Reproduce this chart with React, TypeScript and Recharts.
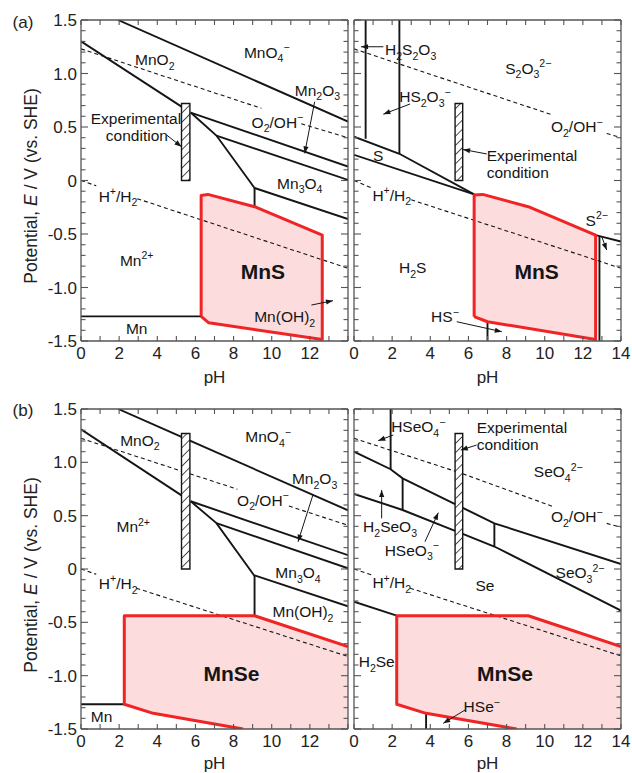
import React from 'react';
import { ComposedChart, Line, Area, XAxis, YAxis, ReferenceArea, ReferenceDot } from 'recharts';

type P = [number, number];
type F = [number, number, number];
type Lbl = { t: string; x: number; y: number; b?: boolean; a?: 'start' | 'middle' | 'end' };

const FONT = 'Arial, "Liberation Sans", Helvetica, sans-serif';
const AX = '#555';
const INK = '#151515';
const RED = '#f02424';
const PINK = '#fcdcdc';

// shared axis values
const PH_TICKS = [0, 1, 2, 3, 4, 5, 6, 7, 8, 9, 10, 11, 12, 13, 14];
const PH_LABELS_LEFT = [0, 2, 4, 6, 8, 10, 12];
const PH_LABELS_RIGHT = [0, 2, 4, 6, 8, 10, 12, 14];
const E_TICKS = [
  -1.5, -1.4, -1.3, -1.2, -1.1, -1.0, -0.9, -0.8, -0.7, -0.6, -0.5, -0.4, -0.3, -0.2, -0.1, 0,
  0.1, 0.2, 0.3, 0.4, 0.5, 0.6, 0.7, 0.8, 0.9, 1.0, 1.1, 1.2, 1.3, 1.4, 1.5,
];
const E_LABELS = [-1.5, -1.0, -0.5, 0, 0.5, 1.0, 1.5];

// ---------- (a) left : Mn-H2O with MnS ----------
const aLeftSolid: P[][] = [
  [[1.94, 1.5], [14, 0.55]],
  [[0, 1.3], [5.27, 0.69]],
  [[5.75, 0.635], [14, 0.13]],
  [[5.75, 0.635], [7.1, 0.42], [9.1, -0.07]],
  [[7.1, 0.42], [14, 0.005]],
  [[9.1, -0.07], [14, -0.36]],
  [[9.1, -0.07], [9.1, -0.245]],
  [[0, -1.27], [6.3, -1.27]],
];
const aLeftDashed: P[][] = [
  [[0, 1.23], [9.46, 0.675]],
  [[11.55, 0.53], [14, 0.4]],
  [[0, 0], [0.8, -0.05]],
  [[2.95, -0.17], [14, -0.82]],
];
const aLeftRed: P[] = [[6.3, -1.27], [6.3, -0.14], [6.65, -0.13], [9.1, -0.245], [12.65, -0.51], [12.65, -1.485], [6.7, -1.33], [6.3, -1.27]];
const aLeftFill: F[] = [[6.3, -1.27, -0.14], [6.65, -1.325, -0.13], [9.1, -1.395, -0.245], [12.65, -1.485, -0.51]];
const aLeftHatch = [5.27, 5.71, 0, 0.72];
const aLeftLabels: Lbl[] = [
  { t: 'MnO_{2}', x: 3.87, y: 1.13 },
  { t: 'MnO_{4}^{−}', x: 9.74, y: 1.2 },
  { t: 'Mn_{2}O_{3}', x: 12.4, y: 0.845 },
  { t: 'O_{2}/OH^{−}', x: 10.3, y: 0.547 },
  { t: 'Experimental', x: 2.88, y: 0.58 },
  { t: 'condition', x: 2.93, y: 0.42 },
  { t: 'Mn_{3}O_{4}', x: 11.47, y: -0.023 },
  { t: 'H^{+}/H_{2}', x: 1.94, y: -0.145 },
  { t: 'Mn^{2+}', x: 2.92, y: -0.743 },
  { t: 'MnS', x: 9.54, y: -0.852, b: true },
  { t: 'Mn(OH)_{2}', x: 10.68, y: -1.273 },
  { t: 'Mn', x: 2.92, y: -1.38 },
];
const aLeftArrows: P[][] = [
  [[4.49, 0.425], [5.27, 0.316]],
  [[12.25, 0.736], [11.73, 0.254]],
  [[12.08, -1.164], [13.21, -1.123]],
];

// ---------- (a) right : S-H2O with MnS ----------
const aRightSolid: P[][] = [
  [[0.61, 1.5], [0.61, 0.39]],
  [[2.38, 1.5], [2.38, 0.25]],
  [[0, 0.41], [2.38, 0.25], [6.3, -0.13]],
  [[0, 0.24], [6.3, -0.13]],
  [[12.67, -0.51], [14, -0.57]],
  [[12.87, -0.52], [12.87, -1.5]],
  [[7.0, -1.32], [7.0, -1.5]],
];
const aRightDashed: P[][] = [
  [[0, 1.23], [10.45, 0.61]],
  [[13.25, 0.44], [14, 0.4]],
  [[0, 0], [0.93, -0.07]],
  [[3.0, -0.18], [14, -0.82]],
];
const aRightRed: P[] = [[6.3, -1.273], [6.3, -0.135], [6.75, -0.13], [9.14, -0.245], [12.67, -0.51], [12.67, -1.485], [7.0, -1.32], [6.3, -1.273]];
const aRightFill: F[] = [[6.3, -1.273, -0.135], [6.75, -1.303, -0.13], [7.0, -1.32, -0.142], [9.14, -1.382, -0.245], [12.67, -1.485, -0.51]];
const aRightHatch = [5.3, 5.7, 0, 0.72];
const aRightLabels: Lbl[] = [
  { t: 'H_{2}S_{2}O_{3}', x: 2.97, y: 1.225 },
  { t: 'HS_{2}O_{3}^{−}', x: 3.72, y: 0.783 },
  { t: 'S_{2}O_{3}^{2−}', x: 9.14, y: 1.05 },
  { t: 'O_{2}/OH^{−}', x: 11.68, y: 0.503 },
  { t: 'S', x: 1.27, y: 0.238 },
  { t: 'Experimental', x: 6.96, y: 0.23, a: 'start' },
  { t: 'condition', x: 6.96, y: 0.075, a: 'start' },
  { t: 'H^{+}/H_{2}', x: 1.98, y: -0.136 },
  { t: 'H_{2}S', x: 3.08, y: -0.811 },
  { t: 'MnS', x: 9.58, y: -0.852, b: true },
  { t: 'S^{2−}', x: 12.73, y: -0.369 },
  { t: 'HS^{−}', x: 4.77, y: -1.273 },
];
const aRightArrows: P[][] = [
  [[1.54, 1.25], [0.37, 1.25]],
  [[2.94, 0.715], [1.54, 0.62]],
  [[6.96, 0.248], [5.72, 0.29]],
  [[12.99, -0.525], [13.25, -0.65]],
  [[5.39, -1.32], [7.75, -1.413]],
];

// ---------- (b) left : Mn-H2O with MnSe ----------
const bLeftSolid: P[][] = [
  [[1.95, 1.5], [5.27, 1.238]],
  [[5.71, 1.203], [14, 0.55]],
  [[0, 1.31], [5.27, 0.69]],
  [[5.75, 0.635], [14, 0.13]],
  [[5.75, 0.635], [7.1, 0.43], [9.1, -0.066]],
  [[7.1, 0.43], [14, 0.006]],
  [[9.1, -0.06], [14, -0.35]],
  [[9.1, -0.06], [9.1, -0.438]],
  [[0, -1.268], [2.27, -1.268]],
];
const bLeftDashed: P[][] = [
  [[0, 1.225], [5.27, 0.918]],
  [[5.71, 0.893], [8.2, 0.748]],
  [[10.9, 0.59], [14, 0.41]],
  [[0, 0], [0.8, -0.05]],
  [[2.9, -0.18], [14, -0.82]],
];
const bLeftRed: P[] = [[14, -0.728], [9.1, -0.438], [2.27, -0.438], [2.27, -1.268], [3.79, -1.353], [8.5, -1.5]];
const bLeftFill: F[] = [[2.27, -1.268, -0.438], [3.79, -1.353, -0.438], [8.5, -1.5, -0.438], [9.1, -1.5, -0.438], [14, -1.5, -0.728]];
const bLeftHatch = [5.27, 5.71, 0, 1.27];
const bLeftLabels: Lbl[] = [
  { t: 'MnO_{2}', x: 3.09, y: 1.21 },
  { t: 'MnO_{4}^{−}', x: 9.81, y: 1.24 },
  { t: 'Mn_{2}O_{3}', x: 12.25, y: 0.85 },
  { t: 'O_{2}/OH^{−}', x: 9.54, y: 0.647 },
  { t: 'Mn^{2+}', x: 2.74, y: 0.397 },
  { t: 'Mn_{3}O_{4}', x: 11.38, y: -0.035 },
  { t: 'H^{+}/H_{2}', x: 1.95, y: -0.134 },
  { t: 'Mn(OH)_{2}', x: 11.64, y: -0.4 },
  { t: 'MnSe', x: 7.89, y: -0.978, b: true },
  { t: 'Mn', x: 1.08, y: -1.385 },
];
const bLeftArrows: P[][] = [[[12.16, 0.694], [11.38, 0.256]]];

// ---------- (b) right : Se-H2O with MnSe ----------
const bRightSolid: P[][] = [
  [[1.92, 1.5], [1.92, 0.935]],
  [[0, 1.1], [1.92, 0.935], [2.55, 0.85], [5.3, 0.609]],
  [[5.7, 0.574], [7.36, 0.428], [14, 0.047]],
  [[2.55, 0.85], [2.55, 0.553]],
  [[0, 0.703], [2.55, 0.553], [5.3, 0.357]],
  [[5.7, 0.329], [7.36, 0.211], [14, -0.39]],
  [[7.36, 0.428], [7.36, 0.211]],
  [[0, -0.306], [2.24, -0.438]],
  [[3.78, -1.353], [3.78, -1.5]],
];
const bRightDashed: P[][] = [
  [[0, 1.225], [5.3, 0.917]],
  [[5.7, 0.893], [10.46, 0.584]],
  [[13.25, 0.428], [14, 0.39]],
  [[0, 0], [0.93, -0.056]],
  [[2.94, -0.18], [14, -0.815]],
];
const bRightRed: P[] = [[14, -0.728], [9.14, -0.438], [2.24, -0.438], [2.24, -1.268], [3.78, -1.353], [8.53, -1.5]];
const bRightFill: F[] = [[2.24, -1.268, -0.438], [3.78, -1.353, -0.438], [8.53, -1.5, -0.438], [9.14, -1.5, -0.438], [14, -1.5, -0.728]];
const bRightHatch = [5.3, 5.7, 0, 1.27];
const bRightLabels: Lbl[] = [
  { t: 'HSeO_{4}^{−}', x: 3.37, y: 1.334 },
  { t: 'Experimental', x: 6.43, y: 1.325, a: 'start' },
  { t: 'condition', x: 6.43, y: 1.168, a: 'start' },
  { t: 'SeO_{4}^{2−}', x: 10.71, y: 0.912 },
  { t: 'O_{2}/OH^{−}', x: 11.68, y: 0.49 },
  { t: 'H_{2}SeO_{3}', x: 1.89, y: 0.397 },
  { t: 'HSeO_{3}^{−}', x: 3.03, y: 0.178 },
  { t: 'SeO_{3}^{2−}', x: 11.85, y: -0.035 },
  { t: 'H^{+}/H_{2}', x: 1.98, y: -0.128 },
  { t: 'Se', x: 6.87, y: -0.15 },
  { t: 'H_{2}Se', x: 1.19, y: -0.869 },
  { t: 'MnSe', x: 7.92, y: -0.978, b: true },
  { t: 'HSe^{−}', x: 6.7, y: -1.291 },
];
const bRightArrows: P[][] = [
  [[2.06, 1.256], [1.27, 1.203]],
  [[6.43, 1.162], [5.6, 1.115]],
  [[1.45, 0.475], [1.45, 0.74]],
  [[3.72, 0.256], [4.42, 0.528]],
  [[5.82, -1.322], [4.68, -1.447]],
];

const toPts = (a: P[]) => a.map(([x, y]) => ({ x, y }));

// small markup: _{sub} ^{sup}
function parse(s: string) {
  const out: { t: string; k: 'n' | 'b' | 'p' }[] = [];
  const re = /([_^])\{([^}]*)\}|([^_^]+)/g;
  let m: RegExpExecArray | null;
  while ((m = re.exec(s))) {
    if (m[1]) out.push({ t: m[2], k: m[1] === '_' ? 'b' : 'p' });
    else out.push({ t: m[3], k: 'n' });
  }
  return out;
}

function RichText({ x, y, l }: { x: number; y: number; l: Lbl }) {
  const fs = l.b ? 21 : 15.5;
  let cur = 0;
  return (
    <text x={x} y={y + fs * 0.36} textAnchor={l.a ?? 'middle'} fontSize={fs} fontWeight={l.b ? 'bold' : 'normal'} fill={INK} fontFamily={FONT}>
      {parse(l.t).map((s, i) => {
        const tgt = s.k === 'b' ? fs * 0.3 : s.k === 'p' ? -fs * 0.42 : 0;
        const dy = tgt - cur;
        cur = tgt;
        return (
          <tspan key={i} dy={dy} fontSize={s.k === 'n' ? fs : fs * 0.68}>
            {s.t}
          </tspan>
        );
      })}
    </text>
  );
}

const arrowDot = (a: P[], sx: number, sy: number) => (p: any) => {
  if (p.index !== a.length - 1) return <g key={`n${p.index}`} />;
  const [x1, y1] = a[a.length - 2];
  const [x2, y2] = a[a.length - 1];
  const ang = Math.atan2(-(y2 - y1) * sy, (x2 - x1) * sx);
  const ux = Math.cos(ang), uy = Math.sin(ang);
  const L = 7, w = 2.6;
  const { cx, cy } = p;
  const pts = [
    [cx, cy],
    [cx - L * ux - w * uy, cy - L * uy + w * ux],
    [cx - L * ux + w * uy, cy - L * uy - w * ux],
  ]
    .map((q) => q.join(','))
    .join(' ');
  return <polygon key="head" points={pts} fill={INK} />;
};

const isMajorE = (v: number) => Math.abs(v * 2 - Math.round(v * 2)) < 1e-6;

const tickRenderer = (side: 'bottom' | 'top' | 'left' | 'right', labels: number[]) => (p: any) => {
  const v = p.payload.value as number;
  const { x, y } = p;
  if (side === 'bottom' || side === 'top') {
    const dir = side === 'bottom' ? -1 : 1;
    return (
      <g>
        <line x1={x} y1={y} x2={x} y2={y + dir * 5} stroke={AX} strokeWidth={1.1} />
        {side === 'bottom' && labels.includes(v) && (
          <text x={x} y={y + 18} textAnchor="middle" fontSize={17} fill="#222" fontFamily={FONT}>
            {v}
          </text>
        )}
      </g>
    );
  }
  const dir = side === 'left' ? 1 : -1;
  const len = isMajorE(v) ? 7 : 4.5;
  const show = side === 'left' && labels.some((q) => Math.abs(q - v) < 1e-6);
  return (
    <g>
      <line x1={x} y1={y} x2={x + dir * len} y2={y} stroke={AX} strokeWidth={1.1} />
      {show && (
        <text x={x - 4} y={y + 6} textAnchor="end" fontSize={17} fill="#222" fontFamily={FONT}>
          {v === 0 ? '0' : v.toFixed(1)}
        </text>
      )}
    </g>
  );
};

type PanelProps = {
  left: number;
  top: number;
  width: number;
  height: number;
  margin: { top: number; right: number; bottom: number; left: number };
  yWidth: number;
  yLabels: number[];
  xLabels: number[];
  sx: number;
  sy: number;
  solid: P[][];
  dashed: P[][];
  red: P[];
  fill: F[];
  hatch: number[];
  labels: Lbl[];
  arrows: P[][];
};

function Panel(d: PanelProps) {
  const axisLine = { stroke: AX, strokeWidth: 1.3 };
  return (
    <div style={{ position: 'absolute', left: d.left, top: d.top }}>
      <ComposedChart width={d.width} height={d.height} margin={d.margin} style={{ overflow: 'visible' }}>
        <XAxis xAxisId={0} dataKey="x" type="number" domain={[0, 14]} allowDataOverflow ticks={PH_TICKS} interval={0} tickSize={0} tickMargin={0} tickLine={false} axisLine={axisLine} height={40} tick={tickRenderer('bottom', d.xLabels)} />
        <XAxis xAxisId="top" orientation="top" dataKey="x" type="number" domain={[0, 14]} allowDataOverflow ticks={PH_TICKS} interval={0} tickSize={0} tickMargin={0} tickLine={false} axisLine={axisLine} height={1} tick={tickRenderer('top', [])} />
        <YAxis yAxisId={0} type="number" domain={[-1.5, 1.5]} allowDataOverflow ticks={E_TICKS} interval={0} tickSize={0} tickMargin={0} tickLine={false} axisLine={axisLine} width={d.yWidth} tick={tickRenderer('left', d.yLabels)} />
        <YAxis yAxisId="right" orientation="right" type="number" domain={[-1.5, 1.5]} allowDataOverflow ticks={E_TICKS} interval={0} tickSize={0} tickMargin={0} tickLine={false} axisLine={axisLine} width={1} tick={tickRenderer('right', [])} />

        <Area data={d.fill.map(([x, lo, hi]) => ({ x, r: [lo, hi] }))} dataKey="r" type="linear" stroke="none" fill={PINK} fillOpacity={1} isAnimationActive={false} activeDot={false} />

        {d.dashed.map((s, i) => (
          <Line key={`d${i}`} data={toPts(s)} dataKey="y" type="linear" stroke={INK} strokeWidth={1.1} strokeDasharray="4 3" dot={false} activeDot={false} isAnimationActive={false} />
        ))}
        {d.solid.map((s, i) => (
          <Line key={`s${i}`} data={toPts(s)} dataKey="y" type="linear" stroke={INK} strokeWidth={1.9} dot={false} activeDot={false} isAnimationActive={false} />
        ))}
        <Line data={toPts(d.red)} dataKey="y" type="linear" stroke={RED} strokeWidth={3} strokeLinejoin="round" dot={false} activeDot={false} isAnimationActive={false} />

        <ReferenceArea x1={d.hatch[0]} x2={d.hatch[1]} y1={d.hatch[2]} y2={d.hatch[3]} fill="url(#hatch)" fillOpacity={1} stroke={INK} strokeWidth={1.4} />

        {d.arrows.map((s, i) => (
          <Line key={`a${i}`} data={toPts(s)} dataKey="y" type="linear" stroke={INK} strokeWidth={1} dot={arrowDot(s, d.sx, d.sy)} activeDot={false} isAnimationActive={false} />
        ))}
        {d.labels.map((l, i) => (
          <ReferenceDot key={`l${i}`} x={l.x} y={l.y} r={0} shape={(p: any) => <RichText x={p.cx} y={p.cy} l={l} />} />
        ))}
      </ComposedChart>
    </div>
  );
}

const SX = 267 / 14;

function Title({ x, y, children, rotate }: { x: number; y: number; children: React.ReactNode; rotate?: boolean }) {
  return (
    <div
      style={{
        position: 'absolute',
        left: x,
        top: y,
        transform: `translate(-50%, -50%)${rotate ? ' rotate(-90deg)' : ''}`,
        whiteSpace: 'nowrap',
        fontFamily: FONT,
        fontSize: rotate ? 17.5 : 17,
        color: '#222',
        lineHeight: 1,
      }}
    >
      {children}
    </div>
  );
}

export default function App() {
  const leftCommon = { left: 0, width: 352, yWidth: 81, yLabels: E_LABELS, xLabels: PH_LABELS_LEFT, sx: SX };
  const rightCommon = { left: 352, width: 280, yWidth: 2, yLabels: [] as number[], xLabels: PH_LABELS_RIGHT, sx: SX };
  const rowA = { top: 0, height: 390, sy: 107 };
  const rowB = { top: 390, height: 383, sy: 320 / 3 };
  return (
    <div style={{ position: 'relative', width: 632, height: 773, background: '#fff', overflow: 'hidden' }}>
      <style>{'body{margin:0} .recharts-wrapper, .recharts-surface{overflow:visible !important}'}</style>
      <svg width={0} height={0} style={{ position: 'absolute' }}>
        <defs>
          <pattern id="hatch" patternUnits="userSpaceOnUse" width="6.5" height="6.5" patternTransform="rotate(45)">
            <rect width="6.5" height="6.5" fill="#fff" />
            <line x1="0" y1="0" x2="0" y2="6.5" stroke={INK} strokeWidth="1.5" />
          </pattern>
        </defs>
      </svg>

      <Panel {...leftCommon} {...rowA} margin={{ top: 19, right: 3, bottom: 9, left: 0 }} solid={aLeftSolid} dashed={aLeftDashed} red={aLeftRed} fill={aLeftFill} hatch={aLeftHatch} labels={aLeftLabels} arrows={aLeftArrows} />
      <Panel {...rightCommon} {...rowA} margin={{ top: 19, right: 10, bottom: 9, left: 0 }} solid={aRightSolid} dashed={aRightDashed} red={aRightRed} fill={aRightFill} hatch={aRightHatch} labels={aRightLabels} arrows={aRightArrows} />
      <Panel {...leftCommon} {...rowB} margin={{ top: 18, right: 3, bottom: 4, left: 0 }} solid={bLeftSolid} dashed={bLeftDashed} red={bLeftRed} fill={bLeftFill} hatch={bLeftHatch} labels={bLeftLabels} arrows={bLeftArrows} />
      <Panel {...rightCommon} {...rowB} margin={{ top: 18, right: 10, bottom: 4, left: 0 }} solid={bRightSolid} dashed={bRightDashed} red={bRightRed} fill={bRightFill} hatch={bRightHatch} labels={bRightLabels} arrows={bRightArrows} />

      <Title x={23} y={22}>(a)</Title>
      <Title x={23} y={410}>(b)</Title>
      <Title x={31.5} y={186} rotate>
        Potential, <i>E</i> / V (vs. SHE)
      </Title>
      <Title x={31.5} y={575} rotate>
        Potential, <i>E</i> / V (vs. SHE)
      </Title>
      <Title x={214.5} y={377}>pH</Title>
      <Title x={487.5} y={377}>pH</Title>
      <Title x={214.5} y={763}>pH</Title>
      <Title x={487.5} y={763}>pH</Title>
    </div>
  );
}
